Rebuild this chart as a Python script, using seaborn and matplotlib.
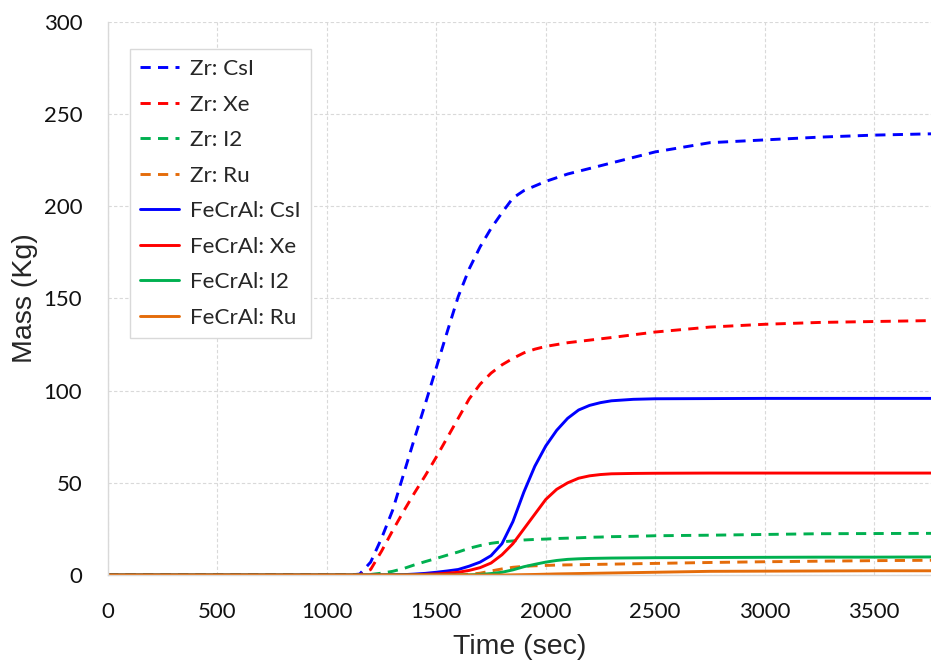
import pandas as pd
import numpy as np
import seaborn as sns
import matplotlib.pyplot as plt

# time axis shared by all series (sec)
time = [0, 1000, 1100, 1150, 1200, 1250, 1300, 1350, 1400, 1450, 1500, 1550,
        1600, 1650, 1700, 1750, 1800, 1850, 1900, 1950, 2000, 2050, 2100, 2150,
        2200, 2250, 2300, 2400, 2500, 2750, 3000, 3250, 3500, 3760]

# masses (Kg)
zr_csi = [0, 0, 0, 0.5, 7, 20, 35, 54.5, 74, 93, 112.5, 132,
          151, 166, 178, 188, 196.5, 204.5, 208.5, 211, 213.5, 215.5, 217.5, 219,
          220.5, 222, 223.5, 226.5, 229.5, 234.5, 236, 237.5, 238.6, 239.3]
zr_xe = [0, 0, 0, 0, 3, 13, 24, 34.5, 44.5, 54, 64, 74.5,
         85, 95.5, 103.5, 109.5, 114, 117.5, 120.5, 122.5, 124, 125, 126, 126.7,
         127.4, 128.1, 128.8, 130.3, 131.8, 134.5, 136, 137, 137.5, 138]
zr_i2 = [0, 0, 0, 0.1, 0.3, 1, 2, 3.5, 5.5, 7.3, 9, 10.8,
         12.5, 14.5, 16, 17.2, 18, 18.5, 19, 19.3, 19.5, 19.8, 20, 20.2,
         20.5, 20.6, 20.8, 21, 21.3, 21.6, 22, 22.4, 22.5, 22.6]
zr_ru = [0, 0, 0, 0, 0, 0, 0, 0, 0, 0, 0, 0,
         0, 0.4, 1, 2.2, 3.3, 4.2, 4.7, 5, 5.2, 5.4, 5.5, 5.6,
         5.7, 5.8, 5.9, 6.1, 6.3, 6.8, 7.2, 7.5, 7.8, 8]
fe_csi = [0, 0, 0, 0, 0, 0, 0.1, 0.2, 0.5, 0.9, 1.5, 2.2,
          3, 4.8, 7, 10.5, 17, 29, 45, 59, 70, 78.5, 85, 89.5,
          92, 93.5, 94.5, 95.3, 95.6, 95.7, 95.8, 95.8, 95.8, 95.8]
fe_xe = [0, 0, 0, 0, 0, 0, 0, 0, 0.2, 0.4, 0.6, 1,
         1.5, 2.5, 4, 6.5, 11, 17, 25, 33, 41, 46.5, 50, 52.5,
         53.8, 54.5, 54.9, 55.1, 55.2, 55.3, 55.3, 55.3, 55.3, 55.3]
fe_i2 = [0, 0, 0, 0, 0, 0, 0, 0, 0, 0, 0, 0,
         0, 0.1, 0.3, 0.8, 1.5, 2.8, 4.5, 5.8, 7, 7.9, 8.5, 8.8,
         9, 9.1, 9.2, 9.3, 9.4, 9.5, 9.6, 9.7, 9.7, 9.8]
fe_ru = [0, 0, 0, 0, 0, 0, 0, 0, 0, 0, 0, 0,
         0, 0, 0, 0, 0, 0.1, 0.2, 0.3, 0.45, 0.6, 0.7, 0.8,
         0.9, 1, 1.1, 1.3, 1.5, 2, 2.1, 2.2, 2.3, 2.3]

labels = ["Zr: CsI", "Zr: Xe", "Zr: I2", "Zr: Ru",
          "FeCrAl: CsI", "FeCrAl: Xe", "FeCrAl: I2", "FeCrAl: Ru"]
series = [zr_csi, zr_xe, zr_i2, zr_ru, fe_csi, fe_xe, fe_i2, fe_ru]
colors = ["#0000FF", "#FF0000", "#00B050", "#E46C0A"] * 2
dash_styles = [(3.5, 2.5)] * 4 + [""] * 4

df = pd.concat([pd.DataFrame({"time": time, "mass": s, "series": lab})
                for lab, s in zip(labels, series)], ignore_index=True)

sns.set_style("white")
plt.rcParams["font.family"] = ["Lato", "DejaVu Sans"]

fig = plt.figure(figsize=(9.31, 6.64), dpi=100)
ax = fig.add_axes([0.116, 0.134, 0.884, 0.833])

sns.lineplot(data=df, x="time", y="mass", hue="series", style="series",
             hue_order=labels, style_order=labels,
             palette=dict(zip(labels, colors)),
             dashes=dict(zip(labels, dash_styles)),
             estimator=None, linewidth=2.1, ax=ax)

ax.set_xlim(0, 3760)
ax.set_ylim(0, 300)
ax.set_xticks(np.arange(0, 3501, 500))
ax.set_yticks(np.arange(0, 301, 50))
ax.grid(True, color="#d9d9d9", linestyle=(0, (3, 2)), linewidth=0.8)
ax.set_axisbelow(True)
for side in ["top", "right"]:
    ax.spines[side].set_visible(False)
for side in ["left", "bottom"]:
    ax.spines[side].set_color("#d9d9d9")
    ax.spines[side].set_linewidth(1.0)
ax.tick_params(axis="x", length=0, pad=19.5, labelsize=16, labelcolor="#111111")
ax.tick_params(axis="y", length=0, pad=18.5, labelsize=16, labelcolor="#111111")

ax.set_xlabel("Time (sec)", fontsize=20.5, family=["Liberation Sans"], labelpad=8.5)
ax.set_ylabel("Mass (Kg)", fontsize=20.5, family=["Liberation Sans"], labelpad=4)

handles, labs = ax.get_legend_handles_labels()
ax.legend(handles, labs, loc="upper left", bbox_to_anchor=(0.027, 0.951),
          borderaxespad=0, fontsize=16.2, frameon=True, fancybox=False,
          edgecolor="#d9d9d9", framealpha=1, borderpad=0.45,
          handlelength=1.7, handletextpad=0.5, labelspacing=0.69)

fig.savefig("out.png", dpi=100)
